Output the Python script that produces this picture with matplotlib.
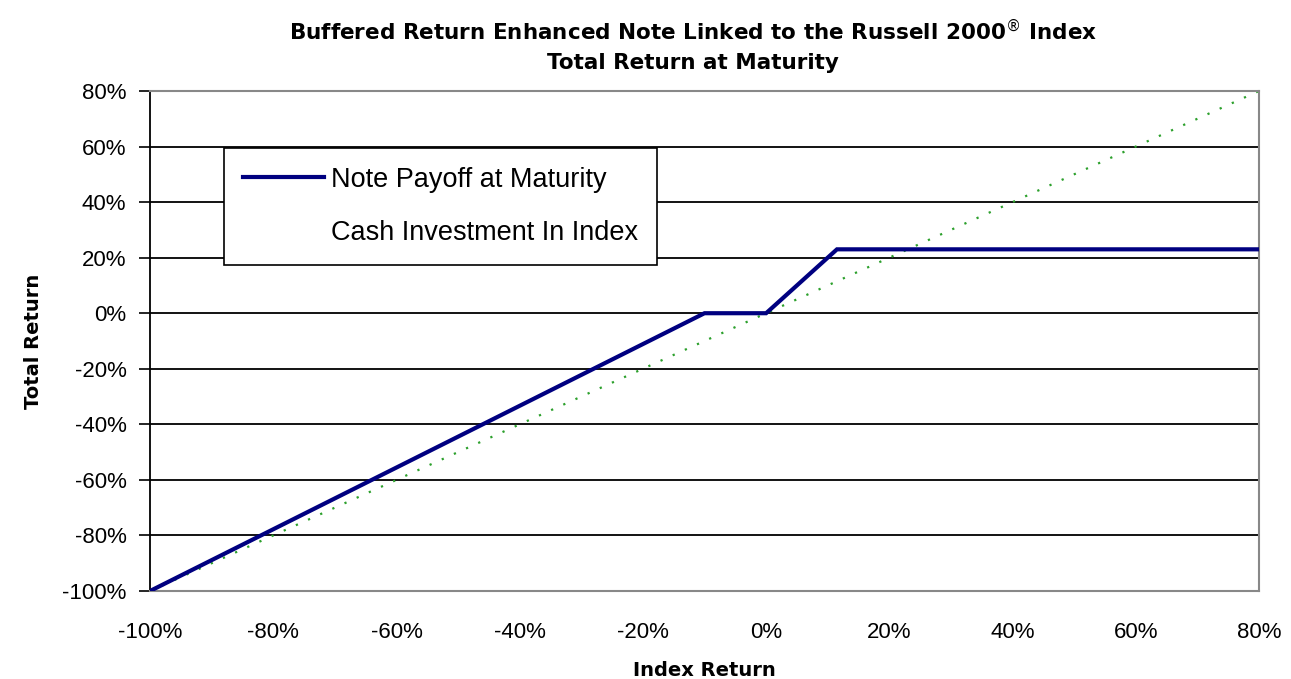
import matplotlib.pyplot as plt
from matplotlib.lines import Line2D
from matplotlib.ticker import FuncFormatter

# index return (%) and note payoff (%) at the kink points
index_ret = [-100, -10, 0, 11.5, 80]
note_payoff = [-100, 0, 0, 23, 23]
cash_x = [-100, 80]
cash_y = [-100, 80]

x_ticks = [-100, -80, -60, -40, -20, 0, 20, 40, 60, 80]
y_ticks = [-100, -80, -60, -40, -20, 0, 20, 40, 60, 80]

plt.rcParams["font.family"] = ["Liberation Sans", "DejaVu Sans"]

fig = plt.figure(figsize=(12.91, 6.79), dpi=100)
ax = fig.add_axes([0.1162, 0.1296, 0.859, 0.7364])

for y in y_ticks[1:-1]:
    ax.axhline(y, color="black", lw=1.3, zorder=1)

ax.plot(cash_x, cash_y, color="#2ca02c", lw=1.6, ls=(0, (1, 5)), zorder=2)
ax.plot(index_ret, note_payoff, color="#000080", lw=3, zorder=3,
        solid_joinstyle="miter")

ax.set_xlim(-100, 80)
ax.set_ylim(-100, 80)
ax.set_xticks(x_ticks)
ax.set_yticks(y_ticks)
pct = FuncFormatter(lambda v, p: f"{v:.0f}%")
ax.xaxis.set_major_formatter(pct)
ax.yaxis.set_major_formatter(pct)
ax.tick_params(axis="y", direction="out", length=8, width=1.2, pad=9,
               labelsize=16, colors="black")
ax.tick_params(axis="x", length=0, pad=22, labelsize=16)

for side in ["top", "right", "bottom"]:
    ax.spines[side].set_color("#888888")
    ax.spines[side].set_linewidth(1.5)
ax.spines["left"].set_color("black")
ax.spines["left"].set_linewidth(1.3)

ax.set_xlabel("Index Return", fontsize=14, fontweight="bold",
              family="DejaVu Sans", labelpad=13)
ax.set_ylabel("Total Return", fontsize=14, fontweight="bold",
              family="DejaVu Sans", labelpad=14)

handles = [Line2D([], [], color="#000080", lw=3),
           Line2D([], [], ls="none")]
leg = ax.legend(handles, ["Note Payoff at Maturity", "Cash Investment In Index"],
                loc="upper left", bbox_to_anchor=(0.0667, 0.886),
                borderaxespad=0, fontsize=19.5, fancybox=False, framealpha=1,
                edgecolor="black", borderpad=0.7, labelspacing=1.0,
                handlelength=3.0, handletextpad=0.25)
leg.get_frame().set_linewidth(1.2)

fig.text(0.537, 0.955, r"Buffered Return Enhanced Note Linked to the Russell 2000$^{\circledR}$ Index",
         ha="center", va="center", fontsize=15.5, fontweight="bold",
         family="DejaVu Sans")
fig.text(0.537, 0.907, "Total Return at Maturity", ha="center", va="center",
         fontsize=15.5, fontweight="bold", family="DejaVu Sans")

fig.savefig("out.png", dpi=100)
